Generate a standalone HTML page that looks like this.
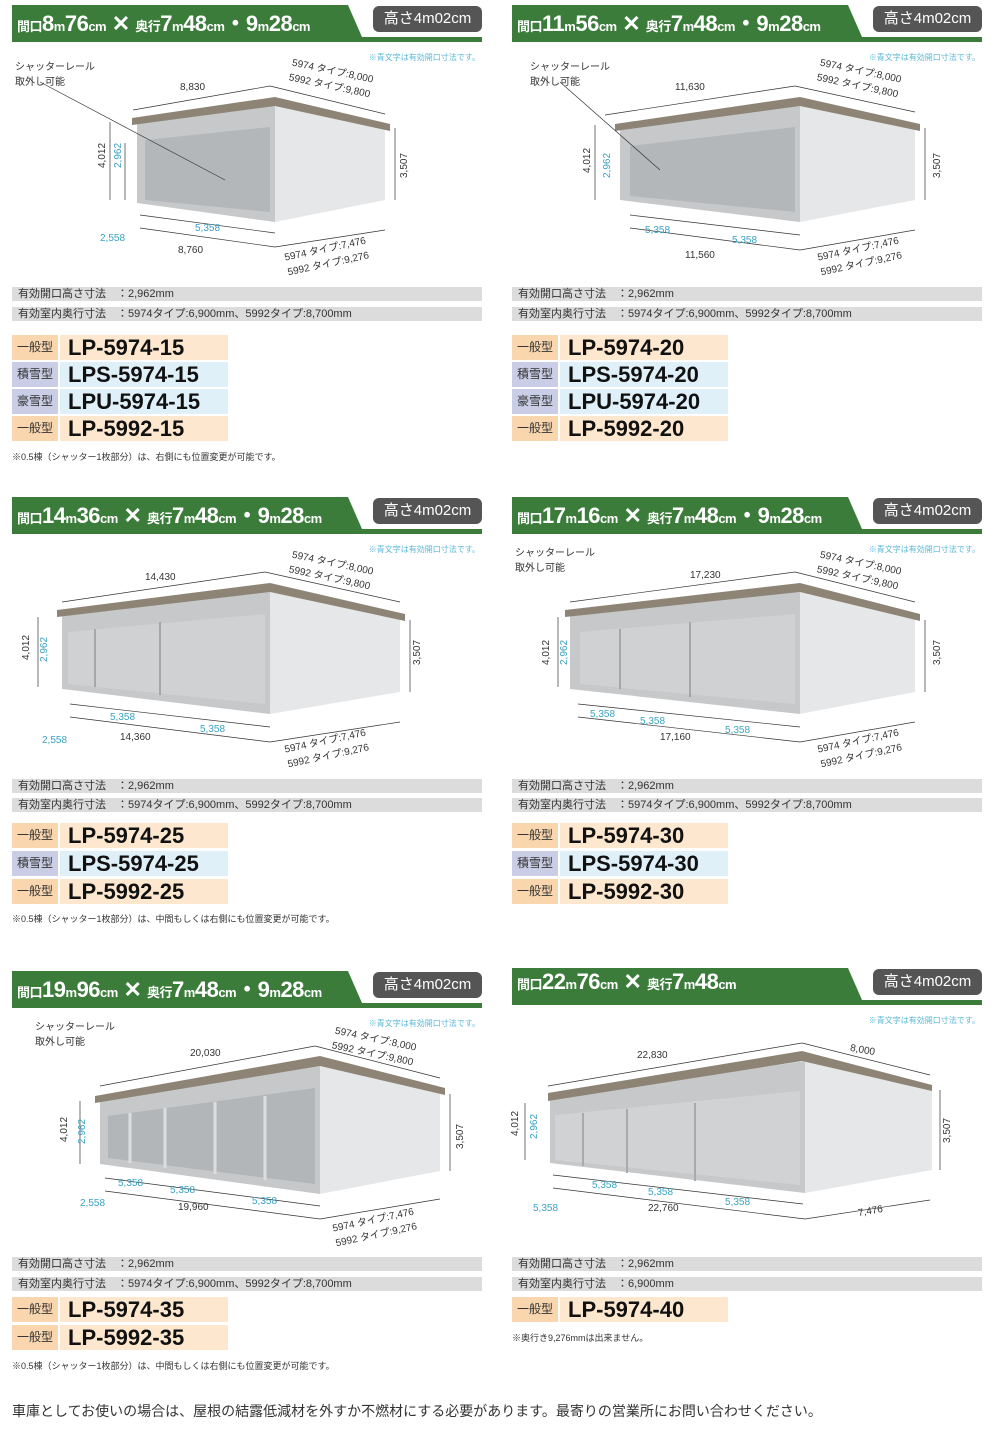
<!DOCTYPE html>
<html><head><meta charset="utf-8">
<style>
body{margin:0;background:#fff;width:1000px;height:1427px;position:relative;overflow:hidden;font-family:"Liberation Sans","Noto Sans CJK JP",sans-serif;color:#222}
.p{position:absolute;width:500px;height:480px}
.hb{position:absolute;left:12px;top:5px;width:470px;height:37px}
.tt{position:absolute;left:5px;top:1px;color:#fff;font-weight:bold;font-size:22px;white-space:nowrap;letter-spacing:-0.5px}
.tt small{font-size:13px;font-weight:bold}
.pill{position:absolute;left:373px;top:6px;width:109px;height:26px;background:#555;border-radius:6px;color:#fff;font-size:15px;text-align:center;line-height:26px}
.blue{position:absolute;right:20px;top:52px;font-size:8px;color:#5bb8d8}
.s{position:absolute;left:12px;width:470px;height:14px;background:#dcdcdc;font-size:11px;line-height:14px;padding-left:6px;box-sizing:border-box;color:#333}
.m{position:absolute;left:12px;height:25px;width:216px}
.m .l{position:absolute;left:0;top:0;width:46px;height:25px;font-size:12px;line-height:25px;text-align:center;color:#333}
.m .v{position:absolute;left:48px;top:0;width:168px;height:25px;font-size:22px;font-weight:bold;line-height:25px;padding-left:8px;box-sizing:border-box;color:#111}
.o .l{background:#f9d6ae}.o .v{background:#fde7cf}
.b .l{background:#c9cde6}.b .v{background:#e0f0f8}
.n{position:absolute;left:12px;font-size:9px;color:#333;white-space:nowrap}
.d{position:absolute;font-size:10px;color:#333;white-space:nowrap}
.c{color:#3aa3c4}
svg{position:absolute;left:0;top:0}
</style></head><body>

<div class="p" style="left:0;top:0">
<svg width="500" height="280"><polygon points="12,5 348,5 362,37 482,37 482,42 12,42" fill="#3b7c3b"/>
<polygon points="137,122 275,105 275,222 137,203" fill="#c6c8ca"/><polygon points="275,105 385,128 385,200 275,222" fill="#e6e7e8"/>
<polygon points="145,140 270,127 270,212 145,200" fill="#b4b7ba"/><polygon points="132,118 275,97 390,124 390,131 275,106 132,125" fill="#8d8476"/>
<g stroke="#333" stroke-width="0.7" fill="none"><line x1="133" y1="110" x2="270" y2="86"/><line x1="270" y1="86" x2="385" y2="114"/><line x1="110" y1="122" x2="110" y2="200"/><line x1="125" y1="143" x2="125" y2="200"/><line x1="395" y1="128" x2="395" y2="200"/><line x1="140" y1="215" x2="275" y2="233"/><line x1="140" y1="228" x2="275" y2="247"/><line x1="275" y1="247" x2="385" y2="230"/><line x1="40" y1="82" x2="225" y2="180"/></g></svg>
<div class="hb"><div class="tt"><small>間口</small>8<small>m</small>76<small>cm</small> ✕ <small>奥行</small>7<small>m</small>48<small>cm</small>・9<small>m</small>28<small>cm</small></div><div class="pill" style="left:361px;top:1px">高さ4m02cm</div></div>
<div class="blue">※青文字は有効開口寸法です。</div>
<div class="d" style="left:15px;top:58px">シャッターレール<br>取外し可能</div>
<div class="d" style="left:180px;top:82px">8,830</div>
<div class="d" style="left:290px;top:62px;transform:rotate(12deg)">5974 タイプ:8,000<br>5992 タイプ:9,800</div>
<div class="d" style="left:90px;top:150px;transform:rotate(-90deg)">4,012</div>
<div class="d c" style="left:106px;top:150px;transform:rotate(-90deg)">2,962</div>
<div class="d" style="left:392px;top:160px;transform:rotate(-90deg)">3,507</div>
<div class="d c" style="left:195px;top:223px">5,358</div>
<div class="d c" style="left:100px;top:233px">2,558</div>
<div class="d" style="left:178px;top:245px">8,760</div>
<div class="d" style="left:285px;top:240px;transform:rotate(-12deg)">5974 タイプ:7,476<br>5992 タイプ:9,276</div>
</div>

<div class="p" style="left:500px;top:0">
<svg width="500" height="280"><polygon points="12,5 348,5 362,37 482,37 482,42 12,42" fill="#3b7c3b"/>
<polygon points="120,128 300,105 300,222 120,200" fill="#c6c8ca"/><polygon points="300,105 415,128 415,200 300,222" fill="#e6e7e8"/>
<polygon points="130,146 295,127 295,212 130,196" fill="#b4b7ba"/><polygon points="115,124 300,97 420,124 420,131 300,106 115,131" fill="#8d8476"/>
<g stroke="#333" stroke-width="0.7" fill="none"><line x1="105" y1="115" x2="295" y2="86"/><line x1="295" y1="86" x2="415" y2="112"/><line x1="95" y1="125" x2="95" y2="200"/><line x1="425" y1="128" x2="425" y2="200"/><line x1="130" y1="215" x2="300" y2="235"/><line x1="130" y1="228" x2="300" y2="250"/><line x1="300" y1="250" x2="415" y2="230"/><line x1="60" y1="82" x2="160" y2="170"/></g></svg>
<div class="hb"><div class="tt"><small>間口</small>11<small>m</small>56<small>cm</small> ✕ <small>奥行</small>7<small>m</small>48<small>cm</small>・9<small>m</small>28<small>cm</small></div><div class="pill" style="left:361px;top:1px">高さ4m02cm</div></div>
<div class="blue">※青文字は有効開口寸法です。</div>
<div class="d" style="left:30px;top:58px">シャッターレール<br>取外し可能</div>
<div class="d" style="left:175px;top:82px">11,630</div>
<div class="d" style="left:318px;top:62px;transform:rotate(12deg)">5974 タイプ:8,000<br>5992 タイプ:9,800</div>
<div class="d" style="left:75px;top:155px;transform:rotate(-90deg)">4,012</div>
<div class="d c" style="left:95px;top:160px;transform:rotate(-90deg)">2,962</div>
<div class="d" style="left:425px;top:160px;transform:rotate(-90deg)">3,507</div>
<div class="d c" style="left:145px;top:225px">5,358</div>
<div class="d c" style="left:232px;top:235px">5,358</div>
<div class="d" style="left:185px;top:250px">11,560</div>
<div class="d" style="left:318px;top:240px;transform:rotate(-12deg)">5974 タイプ:7,476<br>5992 タイプ:9,276</div>
</div>

<div class="p" style="left:0;top:492px">
<svg width="500" height="280"><polygon points="12,5 348,5 362,37 482,37 482,42 12,42" fill="#3b7c3b"/>
<polygon points="62,122 270,100 270,222 62,197" fill="#c6c8ca"/><polygon points="270,100 400,126 400,200 270,222" fill="#e6e7e8"/>
<polygon points="68,140 265,122 265,212 68,192" fill="#cfd1d3"/><polygon points="57,118 270,91 405,122 405,129 270,100 57,125" fill="#8d8476"/>
<g stroke="#999" stroke-width="1.5"><line x1="95" y1="137" x2="95" y2="195"/><line x1="160" y1="130" x2="160" y2="203"/></g>
<g stroke="#333" stroke-width="0.7" fill="none"><line x1="62" y1="110" x2="265" y2="80"/><line x1="265" y1="80" x2="400" y2="110"/><line x1="38" y1="125" x2="38" y2="195"/><line x1="410" y1="128" x2="410" y2="200"/><line x1="70" y1="212" x2="270" y2="235"/><line x1="70" y1="225" x2="270" y2="250"/><line x1="270" y1="250" x2="400" y2="230"/></g></svg>
<div class="hb"><div class="tt"><small>間口</small>14<small>m</small>36<small>cm</small> ✕ <small>奥行</small>7<small>m</small>48<small>cm</small>・9<small>m</small>28<small>cm</small></div><div class="pill" style="left:361px;top:1px">高さ4m02cm</div></div>
<div class="blue">※青文字は有効開口寸法です。</div>
<div class="d" style="left:145px;top:80px">14,430</div>
<div class="d" style="left:290px;top:62px;transform:rotate(12deg)">5974 タイプ:8,000<br>5992 タイプ:9,800</div>
<div class="d" style="left:14px;top:150px;transform:rotate(-90deg)">4,012</div>
<div class="d c" style="left:32px;top:152px;transform:rotate(-90deg)">2,962</div>
<div class="d" style="left:405px;top:155px;transform:rotate(-90deg)">3,507</div>
<div class="d c" style="left:110px;top:220px">5,358</div>
<div class="d c" style="left:200px;top:232px">5,358</div>
<div class="d c" style="left:42px;top:243px">2,558</div>
<div class="d" style="left:120px;top:240px">14,360</div>
<div class="d" style="left:285px;top:240px;transform:rotate(-12deg)">5974 タイプ:7,476<br>5992 タイプ:9,276</div>
</div>

<div class="p" style="left:500px;top:492px">
<svg width="500" height="280"><polygon points="12,5 348,5 362,37 482,37 482,42 12,42" fill="#3b7c3b"/>
<polygon points="70,122 300,100 300,222 70,197" fill="#c6c8ca"/><polygon points="300,100 415,126 415,200 300,222" fill="#e6e7e8"/>
<polygon points="80,140 295,122 295,212 80,192" fill="#cfd1d3"/><polygon points="65,118 300,91 420,122 420,129 300,100 65,125" fill="#8d8476"/>
<g stroke="#999" stroke-width="1.5"><line x1="120" y1="137" x2="120" y2="197"/><line x1="190" y1="130" x2="190" y2="205"/></g>
<g stroke="#333" stroke-width="0.7" fill="none"><line x1="70" y1="110" x2="295" y2="80"/><line x1="295" y1="80" x2="415" y2="110"/><line x1="58" y1="125" x2="58" y2="195"/><line x1="425" y1="128" x2="425" y2="200"/><line x1="78" y1="212" x2="300" y2="235"/><line x1="78" y1="225" x2="300" y2="250"/><line x1="300" y1="250" x2="415" y2="230"/></g></svg>
<div class="hb"><div class="tt"><small>間口</small>17<small>m</small>16<small>cm</small> ✕ <small>奥行</small>7<small>m</small>48<small>cm</small>・9<small>m</small>28<small>cm</small></div><div class="pill" style="left:361px;top:1px">高さ4m02cm</div></div>
<div class="blue">※青文字は有効開口寸法です。</div>
<div class="d" style="left:15px;top:52px">シャッターレール<br>取外し可能</div>
<div class="d" style="left:190px;top:78px">17,230</div>
<div class="d" style="left:318px;top:62px;transform:rotate(12deg)">5974 タイプ:8,000<br>5992 タイプ:9,800</div>
<div class="d" style="left:34px;top:155px;transform:rotate(-90deg)">4,012</div>
<div class="d c" style="left:52px;top:155px;transform:rotate(-90deg)">2,962</div>
<div class="d" style="left:425px;top:155px;transform:rotate(-90deg)">3,507</div>
<div class="d c" style="left:90px;top:217px">5,358</div>
<div class="d c" style="left:140px;top:224px">5,358</div>
<div class="d c" style="left:225px;top:233px">5,358</div>
<div class="d" style="left:160px;top:240px">17,160</div>
<div class="d" style="left:318px;top:240px;transform:rotate(-12deg)">5974 タイプ:7,476<br>5992 タイプ:9,276</div>
</div>

<div class="p" style="left:0;top:966px">
<svg width="500" height="290"><polygon points="12,5 348,5 362,37 482,37 482,42 12,42" fill="#3b7c3b"/>
<polygon points="100,135 320,100 320,228 100,198" fill="#c6c8ca"/><polygon points="320,100 440,126 440,205 320,228" fill="#e6e7e8"/>
<polygon points="108,150 315,122 315,218 108,192" fill="#b3b6b9"/><polygon points="95,130 320,90 445,122 445,129 320,100 95,137" fill="#8d8476"/>
<g stroke="#ddd" stroke-width="3"><line x1="130" y1="147" x2="130" y2="197"/><line x1="165" y1="142" x2="165" y2="202"/><line x1="215" y1="136" x2="215" y2="208"/><line x1="265" y1="130" x2="265" y2="214"/></g>
<g stroke="#333" stroke-width="0.7" fill="none"><line x1="100" y1="120" x2="315" y2="80"/><line x1="315" y1="80" x2="440" y2="112"/><line x1="80" y1="135" x2="80" y2="198"/><line x1="450" y1="128" x2="450" y2="205"/><line x1="105" y1="212" x2="320" y2="240"/><line x1="105" y1="225" x2="320" y2="253"/><line x1="320" y1="253" x2="440" y2="233"/></g></svg>
<div class="hb"><div class="tt"><small>間口</small>19<small>m</small>96<small>cm</small> ✕ <small>奥行</small>7<small>m</small>48<small>cm</small>・9<small>m</small>28<small>cm</small></div><div class="pill" style="left:361px;top:1px">高さ4m02cm</div></div>
<div class="blue">※青文字は有効開口寸法です。</div>
<div class="d" style="left:35px;top:52px">シャッターレール<br>取外し可能</div>
<div class="d" style="left:190px;top:82px">20,030</div>
<div class="d" style="left:333px;top:64px;transform:rotate(12deg)">5974 タイプ:8,000<br>5992 タイプ:9,800</div>
<div class="d" style="left:52px;top:158px;transform:rotate(-90deg)">4,012</div>
<div class="d c" style="left:70px;top:160px;transform:rotate(-90deg)">2,962</div>
<div class="d" style="left:448px;top:165px;transform:rotate(-90deg)">3,507</div>
<div class="d c" style="left:118px;top:212px">5,358</div>
<div class="d c" style="left:170px;top:219px">5,358</div>
<div class="d c" style="left:252px;top:230px">5,358</div>
<div class="d c" style="left:80px;top:232px">2,558</div>
<div class="d" style="left:178px;top:236px">19,960</div>
<div class="d" style="left:333px;top:245px;transform:rotate(-12deg)">5974 タイプ:7,476<br>5992 タイプ:9,276</div>
</div>

<div class="p" style="left:500px;top:963px">
<svg width="500" height="290"><polygon points="12,5 348,5 362,37 482,37 482,42 12,42" fill="#3b7c3b"/>
<polygon points="50,135 305,98 305,230 50,200" fill="#c6c8ca"/><polygon points="305,98 432,125 432,207 305,230" fill="#e6e7e8"/>
<polygon points="55,152 300,128 300,222 55,197" fill="#d0d2d4"/><polygon points="48,130 302,88 432,122 432,128 302,98 48,138" fill="#8d8476"/>
<g stroke="#aaa" stroke-width="2"><line x1="83" y1="150" x2="83" y2="203"/><line x1="127" y1="146" x2="127" y2="210"/><line x1="195" y1="140" x2="195" y2="218"/></g>
<g stroke="#333" stroke-width="0.7" fill="none"><line x1="48" y1="123" x2="302" y2="80"/><line x1="302" y1="80" x2="430" y2="112"/><line x1="25" y1="140" x2="25" y2="197"/><line x1="440" y1="127" x2="440" y2="207"/><line x1="53" y1="212" x2="303" y2="241"/><line x1="53" y1="225" x2="305" y2="256"/><line x1="305" y1="256" x2="430" y2="237"/></g></svg>
<div class="hb"><div class="tt"><small>間口</small>22<small>m</small>76<small>cm</small> ✕ <small>奥行</small>7<small>m</small>48<small>cm</small></div><div class="pill" style="left:361px;top:1px">高さ4m02cm</div></div>
<div class="blue">※青文字は有効開口寸法です。</div>
<div class="d" style="left:137px;top:87px">22,830</div>
<div class="d" style="left:350px;top:82px;transform:rotate(10deg)">8,000</div>
<div class="d" style="left:3px;top:155px;transform:rotate(-90deg)">4,012</div>
<div class="d c" style="left:22px;top:158px;transform:rotate(-90deg)">2,962</div>
<div class="d" style="left:435px;top:162px;transform:rotate(-90deg)">3,507</div>
<div class="d c" style="left:92px;top:217px">5,358</div>
<div class="d c" style="left:148px;top:224px">5,358</div>
<div class="d c" style="left:225px;top:234px">5,358</div>
<div class="d c" style="left:33px;top:240px">5,358</div>
<div class="d" style="left:148px;top:240px">22,760</div>
<div class="d" style="left:358px;top:243px;transform:rotate(-10deg)">7,476</div>
</div>

<div class="s" style="top:287px">有効開口高さ寸法　：2,962mm</div>
<div class="s" style="top:307px">有効室内奥行寸法　：5974タイプ:6,900mm、5992タイプ:8,700mm</div>
<div class="m o" style="top:335px"><div class="l">一般型</div><div class="v">LP-5974-15</div></div>
<div class="m b" style="top:362px"><div class="l">積雪型</div><div class="v">LPS-5974-15</div></div>
<div class="m b" style="top:389px"><div class="l">豪雪型</div><div class="v">LPU-5974-15</div></div>
<div class="m o" style="top:416px"><div class="l">一般型</div><div class="v">LP-5992-15</div></div>
<div class="n" style="top:450px">※0.5棟（シャッター1枚部分）は、右側にも位置変更が可能です。</div>

<div class="s" style="top:779px">有効開口高さ寸法　：2,962mm</div>
<div class="s" style="top:798px">有効室内奥行寸法　：5974タイプ:6,900mm、5992タイプ:8,700mm</div>
<div class="m o" style="top:823px"><div class="l">一般型</div><div class="v">LP-5974-25</div></div>
<div class="m b" style="top:851px"><div class="l">積雪型</div><div class="v">LPS-5974-25</div></div>
<div class="m o" style="top:879px"><div class="l">一般型</div><div class="v">LP-5992-25</div></div>
<div class="n" style="top:912px">※0.5棟（シャッター1枚部分）は、中間もしくは右側にも位置変更が可能です。</div>

<div class="s" style="top:1257px">有効開口高さ寸法　：2,962mm</div>
<div class="s" style="top:1277px">有効室内奥行寸法　：5974タイプ:6,900mm、5992タイプ:8,700mm</div>
<div class="m o" style="top:1297px"><div class="l">一般型</div><div class="v">LP-5974-35</div></div>
<div class="m o" style="top:1325px"><div class="l">一般型</div><div class="v">LP-5992-35</div></div>
<div class="n" style="top:1359px">※0.5棟（シャッター1枚部分）は、中間もしくは右側にも位置変更が可能です。</div>

<div class="s" style="left:512px;top:287px">有効開口高さ寸法　：2,962mm</div>
<div class="s" style="left:512px;top:307px">有効室内奥行寸法　：5974タイプ:6,900mm、5992タイプ:8,700mm</div>
<div class="m o" style="left:512px;top:335px"><div class="l">一般型</div><div class="v">LP-5974-20</div></div>
<div class="m b" style="left:512px;top:362px"><div class="l">積雪型</div><div class="v">LPS-5974-20</div></div>
<div class="m b" style="left:512px;top:389px"><div class="l">豪雪型</div><div class="v">LPU-5974-20</div></div>
<div class="m o" style="left:512px;top:416px"><div class="l">一般型</div><div class="v">LP-5992-20</div></div>

<div class="s" style="left:512px;top:779px">有効開口高さ寸法　：2,962mm</div>
<div class="s" style="left:512px;top:798px">有効室内奥行寸法　：5974タイプ:6,900mm、5992タイプ:8,700mm</div>
<div class="m o" style="left:512px;top:823px"><div class="l">一般型</div><div class="v">LP-5974-30</div></div>
<div class="m b" style="left:512px;top:851px"><div class="l">積雪型</div><div class="v">LPS-5974-30</div></div>
<div class="m o" style="left:512px;top:879px"><div class="l">一般型</div><div class="v">LP-5992-30</div></div>

<div class="s" style="left:512px;top:1257px">有効開口高さ寸法　：2,962mm</div>
<div class="s" style="left:512px;top:1277px">有効室内奥行寸法　：6,900mm</div>
<div class="m o" style="left:512px;top:1297px"><div class="l">一般型</div><div class="v">LP-5974-40</div></div>
<div class="n" style="left:512px;top:1331px">※奥行き9,276mmは出来ません。</div>

<div style="position:absolute;left:12px;top:1401px;font-size:14px;color:#333;white-space:nowrap">車庫としてお使いの場合は、屋根の結露低減材を外すか不燃材にする必要があります。最寄りの営業所にお問い合わせください。</div>
</body></html>
